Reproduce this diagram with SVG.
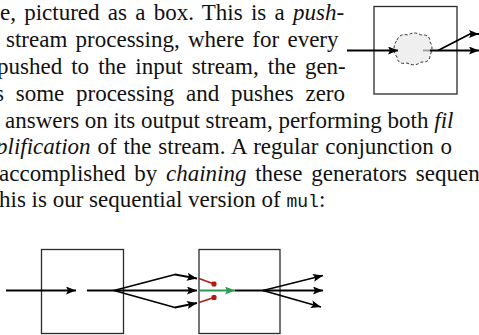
<svg xmlns="http://www.w3.org/2000/svg" width="479" height="335" viewBox="0 0 479 335">
<style>
.t{font-family:"Liberation Serif","Times New Roman",serif;font-size:23px;fill:#111}
.i{font-style:italic}
.m{font-family:"Liberation Mono","Courier New",monospace;font-size:18px}
.box{fill:#fff;stroke:#2a2a2a;stroke-width:1.3}
.ln{fill:none;stroke:#000;stroke-width:1.8;stroke-linejoin:round}
.red{fill:none;stroke:#b01c10;stroke-width:1.5}
.grn{fill:none;stroke:#2a9a52;stroke-width:2}
</style>
<defs>
<marker id="ah" markerUnits="userSpaceOnUse" markerWidth="12" markerHeight="10" refX="10" refY="4" orient="auto">
<path d="M0,0 L10,4 L0,8 L2,4 Z" fill="#000"/>
</marker>
<marker id="ahg" markerUnits="userSpaceOnUse" markerWidth="12" markerHeight="10" refX="10" refY="4" orient="auto">
<path d="M0,0 L10,4 L0,8 L2,4 Z" fill="#2a9a52"/>
</marker>
<marker id="dot" markerUnits="userSpaceOnUse" markerWidth="6" markerHeight="6" refX="3" refY="3">
<rect x="0.5" y="0.5" width="5" height="5" rx="1.5" fill="#b01c10"/>
</marker>
</defs>
<g id="text">
<text class="t" x="0" y="20" word-spacing="2.5">e, pictured as a box. This is a <tspan class="i">push-</tspan></text>
<text class="t" x="6" y="47" word-spacing="2.5">stream processing, where for every</text>
<text class="t" x="-3" y="74" word-spacing="3.3">pushed to the input stream, the gen-</text>
<text class="t" x="-5" y="101" word-spacing="6">s some processing and pushes zero</text>
<text class="t" x="5" y="128">answers on its output stream, performing both <tspan class="i">fil</tspan></text>
<text class="t" x="-4" y="154" word-spacing="1.1"><tspan class="i">plification</tspan> of the stream. A regular conjunction o</text>
<text class="t" x="-1" y="181" word-spacing="3">accomplished by <tspan class="i">chaining</tspan> these generators sequen</text>
<text class="t" x="-1" y="207">his is our sequential version of <tspan class="m">mul</tspan>:</text>
</g>
<g id="generator">
<rect class="box" x="374" y="6.5" width="83" height="87.5"/>
<path d="M397,40 Q400,33 408,35 Q414,31 421,35 Q430,34 430,42 Q434,48 430,55 Q430,63 421,62 Q415,67 407,63 Q398,65 397,57 Q391,49 397,40 Z" fill="#efefef" stroke="#333" stroke-width="1" stroke-dasharray="3,2"/>
</g>
<g id="box1"><rect class="box" x="41.5" y="249.5" width="82" height="84"/></g>
<g id="box2"><rect class="box" x="199" y="249.5" width="81" height="84"/></g>
<g id="connectors">
<line class="ln" x1="347" y1="50.5" x2="398" y2="50.5" marker-end="url(#ah)"/>
<line x1="423" y1="50.5" x2="431" y2="50.5" stroke="#999" stroke-width="1.8"/>
<line class="ln" x1="430" y1="50.5" x2="479" y2="50.5" marker-end="url(#ah)"/>
<polyline class="ln" points="438,50.5 470,34 479,34" marker-end="url(#ah)"/>
<line class="ln" x1="6" y1="290.5" x2="76" y2="290.5" marker-end="url(#ah)"/>
<line class="ln" x1="87" y1="290.5" x2="197" y2="290.5" marker-end="url(#ah)"/>
<polyline class="ln" points="114,290.5 175,274.5 197,278.5" marker-end="url(#ah)"/>
<polyline class="ln" points="114,290.5 175,307.5 197,303" marker-end="url(#ah)"/>
<line class="red" x1="199" y1="278.5" x2="214" y2="284" marker-end="url(#dot)"/>
<line class="red" x1="199" y1="302.5" x2="214" y2="297.5" marker-end="url(#dot)"/>
<line class="grn" x1="199" y1="290.5" x2="235" y2="290.5" marker-end="url(#ahg)"/>
<line class="ln" x1="235" y1="290.5" x2="323" y2="290.5" marker-end="url(#ah)"/>
<line class="ln" x1="263" y1="290.5" x2="323" y2="275.5" marker-end="url(#ah)"/>
<line class="ln" x1="263" y1="290.5" x2="321" y2="307" marker-end="url(#ah)"/>
</g>
</svg>
